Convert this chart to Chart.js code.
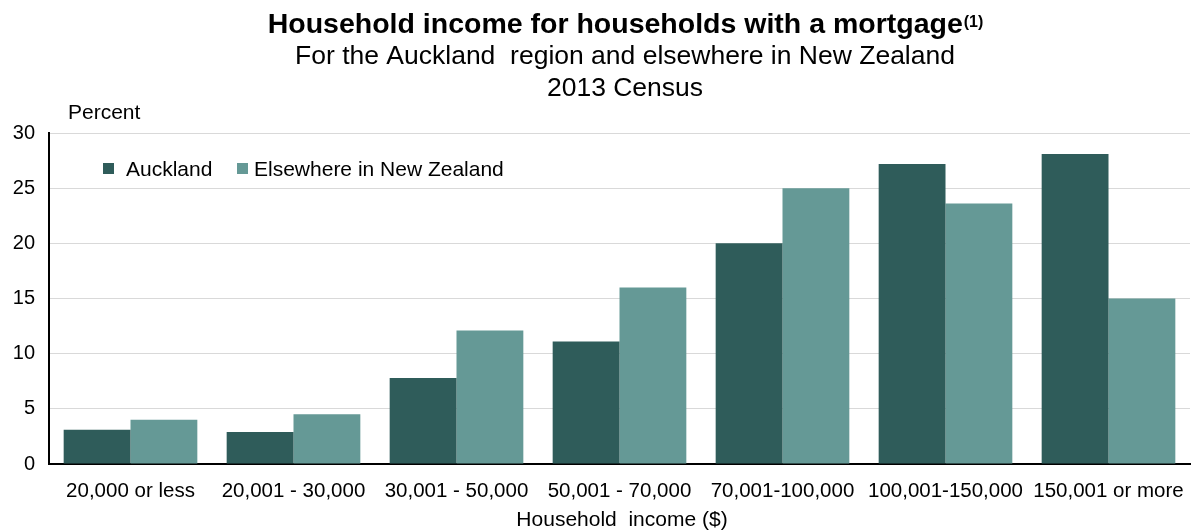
<!DOCTYPE html>
<html>
<head>
<meta charset="utf-8">
<script src="https://cdn.jsdelivr.net/npm/chart.js@4"></script>
<style>
  html, body { margin: 0; padding: 0; background: #fff; }
  #wrap { width: 1202px; height: 531px; position: relative; }
</style>
</head>
<body>
<div id="wrap"><canvas id="chart" width="1202" height="531"></canvas></div>
<script>
const categories = [
  "20,000 or less", "20,001 - 30,000", "30,001 - 50,000", "50,001 - 70,000",
  "70,001-100,000", "100,001-150,000", "150,001 or more"
];
const auckland = [3.1, 2.9, 7.8, 11.1, 20.0, 27.2, 28.1];
const elsewhere = [4.0, 4.5, 12.1, 16.0, 25.0, 23.6, 15.0];
const yTicks = [0, 5, 10, 15, 20, 25, 30];

const FONT = "'Liberation Sans', Arial, sans-serif";
const DARK = "#2f5c5a";
const LIGHT = "#659996";

function text(ctx, str, x, y, font, align) {
  ctx.font = font;
  ctx.textAlign = align;
  ctx.fillText(str, x, y);
}

// titles, unit label, axis title and the in-plot legend
const annotations = {
  id: "annotations",
  afterDraw(chart) {
    const ctx = chart.ctx;
    const cx = 625;
    ctx.save();
    ctx.fillStyle = "#000";
    ctx.textBaseline = "alphabetic";

    // main title with superscript note
    const main = "Household income for households with a mortgage";
    const mainFont = "bold 28.5px " + FONT;
    const supFont = "bold 16px " + FONT;
    ctx.font = mainFont;
    const mw = ctx.measureText(main).width;
    ctx.font = supFont;
    const sw = ctx.measureText("(1)").width;
    const x0 = cx - (mw + sw) / 2;
    text(ctx, main, x0, 33, mainFont, "left");
    text(ctx, "(1)", x0 + mw + 1, 27, supFont, "left");

    text(ctx, "For the Auckland  region and elsewhere in New Zealand", cx, 64, "26.5px " + FONT, "center");
    text(ctx, "2013 Census", cx, 96, "26.5px " + FONT, "center");

    text(ctx, "Percent", 68, 119, "21px " + FONT, "left");
    text(ctx, "Household  income ($)", 622, 526, "21px " + FONT, "center");

    // legend
    const sets = chart.data.datasets;
    const items = [{ x: 103, tx: 126 }, { x: 237, tx: 254 }];
    sets.forEach((ds, i) => {
      ctx.fillStyle = ds.backgroundColor;
      ctx.fillRect(items[i].x, 163, 11, 11);
      ctx.fillStyle = "#000";
      text(ctx, ds.label, items[i].tx, 176, "21px " + FONT, "left");
    });
    ctx.restore();
  }
};

new Chart(document.getElementById("chart"), {
  type: "bar",
  data: {
    labels: categories,
    datasets: [
      { label: "Auckland", data: auckland, backgroundColor: DARK },
      { label: "Elsewhere in New Zealand", data: elsewhere, backgroundColor: LIGHT },
    ],
  },
  options: {
    responsive: false,
    animation: false,
    events: [],
    layout: { padding: { left: 0, top: 133, right: 12, bottom: 0 } },
    datasets: { bar: { barPercentage: 1.0, categoryPercentage: 0.82 } },
    plugins: { legend: { display: false }, title: { display: false }, tooltip: { enabled: false } },
    scales: {
      x: {
        grid: { display: false, drawTicks: false },
        border: { display: true, color: "#000", width: 2 },
        ticks: { color: "#000", font: { family: FONT, size: 20.5 }, padding: 15, maxRotation: 0, autoSkip: false },
        afterFit(scale) { scale.height = 67; },
      },
      y: {
        min: 0,
        max: 30,
        afterBuildTicks(scale) { scale.ticks = yTicks.map((v) => ({ value: v })); },
        grid: { color: "#d9d9d9", lineWidth: 1, drawTicks: false },
        border: { display: true, color: "#000", width: 2 },
        ticks: { color: "#000", font: { family: FONT, size: 20 }, padding: 14 },
        afterFit(scale) { scale.width = 49; },
      },
    },
  },
  plugins: [annotations],
});
</script>
</body>
</html>
